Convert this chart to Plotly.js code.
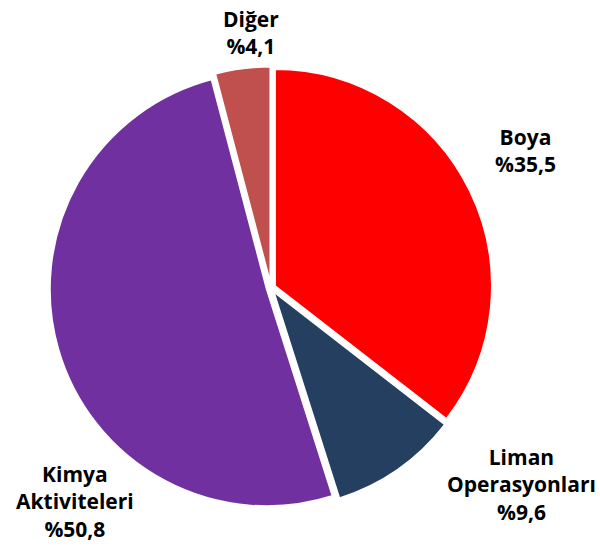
<!DOCTYPE html>
<html>
<head>
<meta charset="utf-8">
<script src="https://cdn.plot.ly/plotly-3.0.1.min.js"></script>
<style>html,body{margin:0;padding:0;background:#fff;}#chart{width:600px;height:550px;}</style>
</head>
<body>
<div id="chart"></div>
<script>
const categories = ["Boya", "Liman Operasyonları", "Kimya Aktiviteleri", "Diğer"];
const labelLines = [["Boya"], ["Liman", "Operasyonları"], ["Kimya", "Aktiviteleri"], ["Diğer"]];
const values = [35.5, 9.6, 50.8, 4.1];
const percentText = ["%35,5", "%9,6", "%50,8", "%4,1"];
const colors = ["#FF0000", "#243F60", "#7030A0", "#C0504D"];

const W = 600, H = 550;
// label centres in pixels (layout only)
const labelPos = [[525, 150], [521, 484], [75, 501], [251, 32]];

const trace = {
  type: "pie",
  labels: categories,
  values: values,
  sort: false,
  direction: "clockwise",
  rotation: 0,
  marker: {colors: colors, line: {color: "#FFFFFF", width: 2}},
  pull: [0.02, 0.02, 0.02, 0.02],
  textinfo: "none",
  hoverinfo: "label+percent",
  showlegend: false,
  domain: {x: [0.0827, 0.8207], y: [0.0738, 0.879]}
};

const annotations = categories.map((c, i) => ({
  xref: "paper", yref: "paper",
  x: labelPos[i][0] / W, y: 1 - labelPos[i][1] / H,
  xanchor: "center", yanchor: "middle",
  showarrow: false,
  align: "center",
  text: labelLines[i].concat([percentText[i]]).join("<br>"),
  font: {family: "'Open Sans', sans-serif", size: 21, color: "#000000", weight: "bold"}
}));

Plotly.newPlot("chart", [trace], {
  width: W, height: H,
  margin: {l: 0, r: 0, t: 0, b: 0},
  paper_bgcolor: "#FFFFFF",
  annotations: annotations
}, {displayModeBar: false, staticPlot: true});
</script>
</body>
</html>
